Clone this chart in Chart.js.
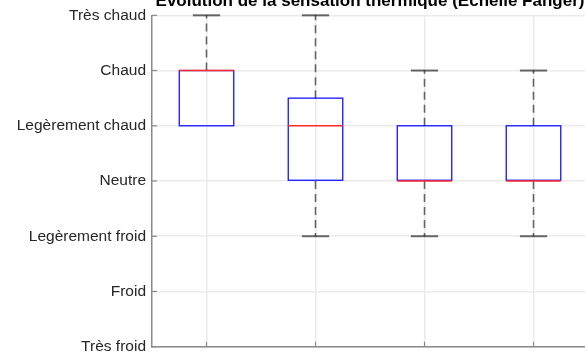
<!DOCTYPE html>
<html>
<head>
<meta charset="utf-8">
<script src="https://cdn.jsdelivr.net/npm/chart.js@4"></script>
<style>
  html, body { margin: 0; padding: 0; background: #fff; }
  #wrap { width: 585px; height: 353px; overflow: hidden; position: relative; }
  #wrap canvas { position: absolute; left: 0; top: 0; }
</style>
</head>
<body>
<div id="wrap"><canvas id="chart" width="600" height="362"></canvas></div>
<script>
const titleText = 'Évolution de la sensation thermique (Échelle Fanger)';
const levelLabels = ['Très froid', 'Froid', 'Legèrement froid', 'Neutre', 'Legèrement chaud', 'Chaud', 'Très chaud'];
const groups = ['1', '2', '3', '4'];

// values on the Fanger scale, -3 (très froid) .. +3 (très chaud)
const maxVals = [3, 3, 2, 2];
const q3Vals = [2, 1.5, 1, 1];
const medianVals = [2, 1, 0, 0];
const q1Vals = [1, 0, 0, 0];
const minVals = [1, -1, -1, -1];

const axisGrey = '#8a8a8a';
const gridGrey = '#ebebeb';

const boxPlugin = {
  id: 'boxExtras',
  afterDatasetsDraw(chart) {
    const { ctx, scales: { x, y }, chartArea } = chart;
    const meta = chart.getDatasetMeta(0);
    ctx.save();
    groups.forEach((g, i) => {
      const bar = meta.data[i];
      const cx = bar.x;
      const half = bar.width / 2;
      const capHalf = half / 2;

      // box outline, centred on the quartile values
      ctx.strokeStyle = '#1414ff';
      ctx.lineWidth = 1.3;
      ctx.strokeRect(cx - half, bar.y, bar.width, bar.base - bar.y);

      // whiskers
      ctx.strokeStyle = 'rgba(0,0,0,0.58)';
      ctx.lineWidth = 1.6;
      const whisk = (from, to) => {
        if (from === to) return;
        ctx.setLineDash([8, 5]);
        ctx.beginPath();
        ctx.moveTo(cx, y.getPixelForValue(from));
        ctx.lineTo(cx, y.getPixelForValue(to));
        ctx.stroke();
        ctx.setLineDash([]);
        ctx.lineWidth = 2;
        ctx.beginPath();
        ctx.moveTo(cx - capHalf, y.getPixelForValue(to));
        ctx.lineTo(cx + capHalf, y.getPixelForValue(to));
        ctx.stroke();
        ctx.lineWidth = 1.6;
      };
      whisk(q3Vals[i], maxVals[i]);
      whisk(q1Vals[i], minVals[i]);

      // median
      ctx.strokeStyle = '#ff2a2a';
      ctx.lineWidth = 1.4;
      const my = y.getPixelForValue(medianVals[i]);
      ctx.beginPath();
      ctx.moveTo(cx - half, my);
      ctx.lineTo(cx + half, my);
      ctx.stroke();
    });

    // inward tick marks
    ctx.strokeStyle = axisGrey;
    ctx.lineWidth = 1.2;
    y.ticks.forEach(t => {
      const py = y.getPixelForValue(t.value);
      ctx.beginPath();
      ctx.moveTo(chartArea.left, py);
      ctx.lineTo(chartArea.left + 5, py);
      ctx.stroke();
    });
    groups.forEach((g, i) => {
      const px = x.getPixelForValue(i);
      ctx.beginPath();
      ctx.moveTo(px, chartArea.bottom);
      ctx.lineTo(px, chartArea.bottom - 5);
      ctx.stroke();
    });

    // title
    ctx.fillStyle = '#000';
    ctx.font = 'bold 17px "Liberation Sans", Arial, sans-serif';
    ctx.textAlign = 'center';
    ctx.textBaseline = 'alphabetic';
    ctx.fillText(titleText, (chartArea.left + chartArea.right) / 2, 6);
    ctx.restore();
  }
};

new Chart(document.getElementById('chart'), {
  type: 'bar',
  data: {
    labels: groups,
    datasets: [{
      data: q1Vals.map((q, i) => [q, q3Vals[i]]),
      backgroundColor: 'rgba(0,0,0,0)',
      borderWidth: 0,
      barPercentage: 0.5,
      categoryPercentage: 1
    }]
  },
  options: {
    responsive: false,
    animation: false,
    layout: { padding: { top: 14.5, right: 12, bottom: 7, left: 0 } },
    plugins: { legend: { display: false }, tooltip: { enabled: false } },
    scales: {
      x: {
        offset: true,
        grid: { offset: false, color: gridGrey, lineWidth: 1.5, drawTicks: false },
        border: { color: axisGrey, width: 1.5 },
        ticks: { display: false },
        afterFit(s) { s.height = 0; }
      },
      y: {
        min: -3,
        max: 3,
        grid: { color: gridGrey, lineWidth: 1.5, drawTicks: false },
        border: { color: axisGrey, width: 1.5 },
        ticks: {
          stepSize: 1,
          padding: 6,
          color: '#262626',
          font: { family: '"Liberation Sans", Arial, sans-serif', size: 15.5 },
          callback: v => levelLabels[v + 3]
        },
        afterFit(s) { s.width = 152; }
      }
    }
  },
  plugins: [boxPlugin]
});
</script>
</body>
</html>
